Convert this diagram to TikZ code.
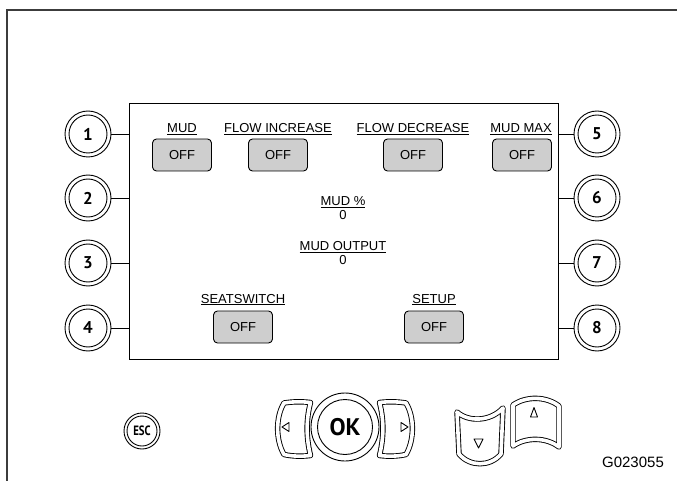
\documentclass[tikz,border=0pt]{standalone}
\usepackage{fontspec}
\setmainfont{Liberation Sans}
\newfontfamily\keyfont{PT Sans}
\definecolor{btngray}{RGB}{206,206,206}
\definecolor{framegray}{RGB}{60,60,60}
\begin{document}
\begin{tikzpicture}[x=1bp,y=-1bp,
  lbl/.style={font=\fontsize{13bp}{15bp}\selectfont, inner sep=0pt, anchor=base},
  offbtn/.style={draw, fill=btngray, rounded corners=4bp, minimum width=59bp, minimum height=32bp, line width=0.9bp, inner sep=0pt, font=\fontsize{13bp}{15bp}\selectfont},
  keyin/.style={circle, draw, minimum size=38bp, inner sep=0pt, line width=0.9bp, font=\keyfont\bfseries\fontsize{17bp}{19bp}\selectfont},
  keyout/.style={circle, draw, minimum size=46bp, inner sep=0pt, line width=0.9bp},
  dbl/.style={draw, double, double distance=3.6bp, line width=0.9bp, line join=round},
  tri/.style={draw, line width=0.9bp, line join=round}
]
\useasboundingbox (0,0) rectangle (677,481);
% outer frame
\draw[line width=1.4bp, framegray] (7,481) -- (7,10) -- (677,10);
% screen
\node[draw, line width=1.2bp, minimum width=429bp, minimum height=256bp, inner sep=0pt, anchor=north west] (scr) at (129,103) {};
% side keys
\foreach \i/\y in {1/134,2/198,3/263,4/328}{
  \node[keyout] (ko\i) at (88,\y) {};
  \node[keyin] (k\i) at (88,\y) {\i};
  \draw[line width=0.9bp] (ko\i.east) -- (ko\i.east -| scr.west);
}
\foreach \i/\y in {5/134,6/198,7/263,8/328}{
  \node[keyout] (ko\i) at (597,\y) {};
  \node[keyin] (k\i) at (597,\y) {\i};
  \draw[line width=0.9bp] (ko\i.west) -- (ko\i.west -| scr.east);
}
% labels and OFF buttons
\node[lbl] (lmud) at (182,132.5) {\underline{MUD}};
\node[offbtn] (bmud) at (182,155) {OFF};
\node[lbl] (lfi) at (278,132.5) {\underline{FLOW INCREASE}};
\node[offbtn] (bfi) at (278,155) {OFF};
\node[lbl] (lfd) at (413,132.5) {\underline{FLOW DECREASE}};
\node[offbtn] (bfd) at (413,155) {OFF};
\node[lbl] (lmm) at (521,132.5) {\underline{MUD MAX}};
\node[offbtn] (bmm) at (522,155) {OFF};
\node[lbl] (lpct) at (343,206) {\underline{MUD \%}};
\node[lbl] (vpct) at (343,219.5) {0};
\node[lbl] (lout) at (343,250.5) {\underline{MUD OUTPUT}};
\node[lbl] (vout) at (343,265) {0};
\node[lbl] (lseat) at (243,303) {\underline{SEATSWITCH}};
\node[offbtn] (bseat) at (243,327) {OFF};
\node[lbl] (lsetup) at (434,303) {\underline{SETUP}};
\node[offbtn] (bsetup) at (434,327) {OFF};
% ESC key
\node[circle, draw, minimum size=36bp, inner sep=0pt, line width=0.9bp] (esco) at (142,431) {};
\node[circle, draw, minimum size=30bp, inner sep=0pt, line width=0.9bp, font=\keyfont\bfseries\fontsize{13.5bp}{15bp}\selectfont] (esc) at (142,431) {\scalebox{0.8}[1]{ESC}};
% OK key
\node[circle, draw, minimum size=68bp, inner sep=0pt, line width=0.9bp] (oko) at (345,427) {};
\node[circle, draw, minimum size=55bp, inner sep=0pt, line width=0.9bp, font=\keyfont\bfseries\fontsize{24bp}{26bp}\selectfont] (ok) at (345,427) {OK};
% left / right keys
\foreach \s in {1,-1}{
\begin{scope}[shift={(345-345*\s,0)}, xscale=\s]
  \draw[dbl] (284,403) .. controls (293,401.5) and (302,401.5) .. (310.5,402.5)
    .. controls (306,420) and (306,437) .. (310.5,455.5)
    .. controls (302,456.5) and (293,456.5) .. (284,454.5)
    .. controls (275.5,440) and (275.5,417) .. cycle;
  \draw[tri] (282,427) -- (289,422.5) -- (289,431.5) -- cycle;
\end{scope}
}
% down key
\draw[dbl] (457,412) .. controls (468,422) and (490,422) .. (503,408)
  -- (501,454) .. controls (490,467) and (470,467) .. (459,454) -- cycle;
\draw[tri] (474,439) -- (483,439) -- (478.5,448) -- cycle;
% up key
\draw[dbl] (513,405) .. controls (526,396) and (546,396) .. (559,406)
  -- (559,447) .. controls (546,437) and (526,437) .. (513,446) -- cycle;
\draw[tri] (530.5,417) -- (537.5,417) -- (534,407.5) -- cycle;
% figure id
\node[font=\fontsize{15bp}{17bp}\selectfont, inner sep=0pt] (gid) at (633,462) {G023055};
\end{tikzpicture}
\end{document}
